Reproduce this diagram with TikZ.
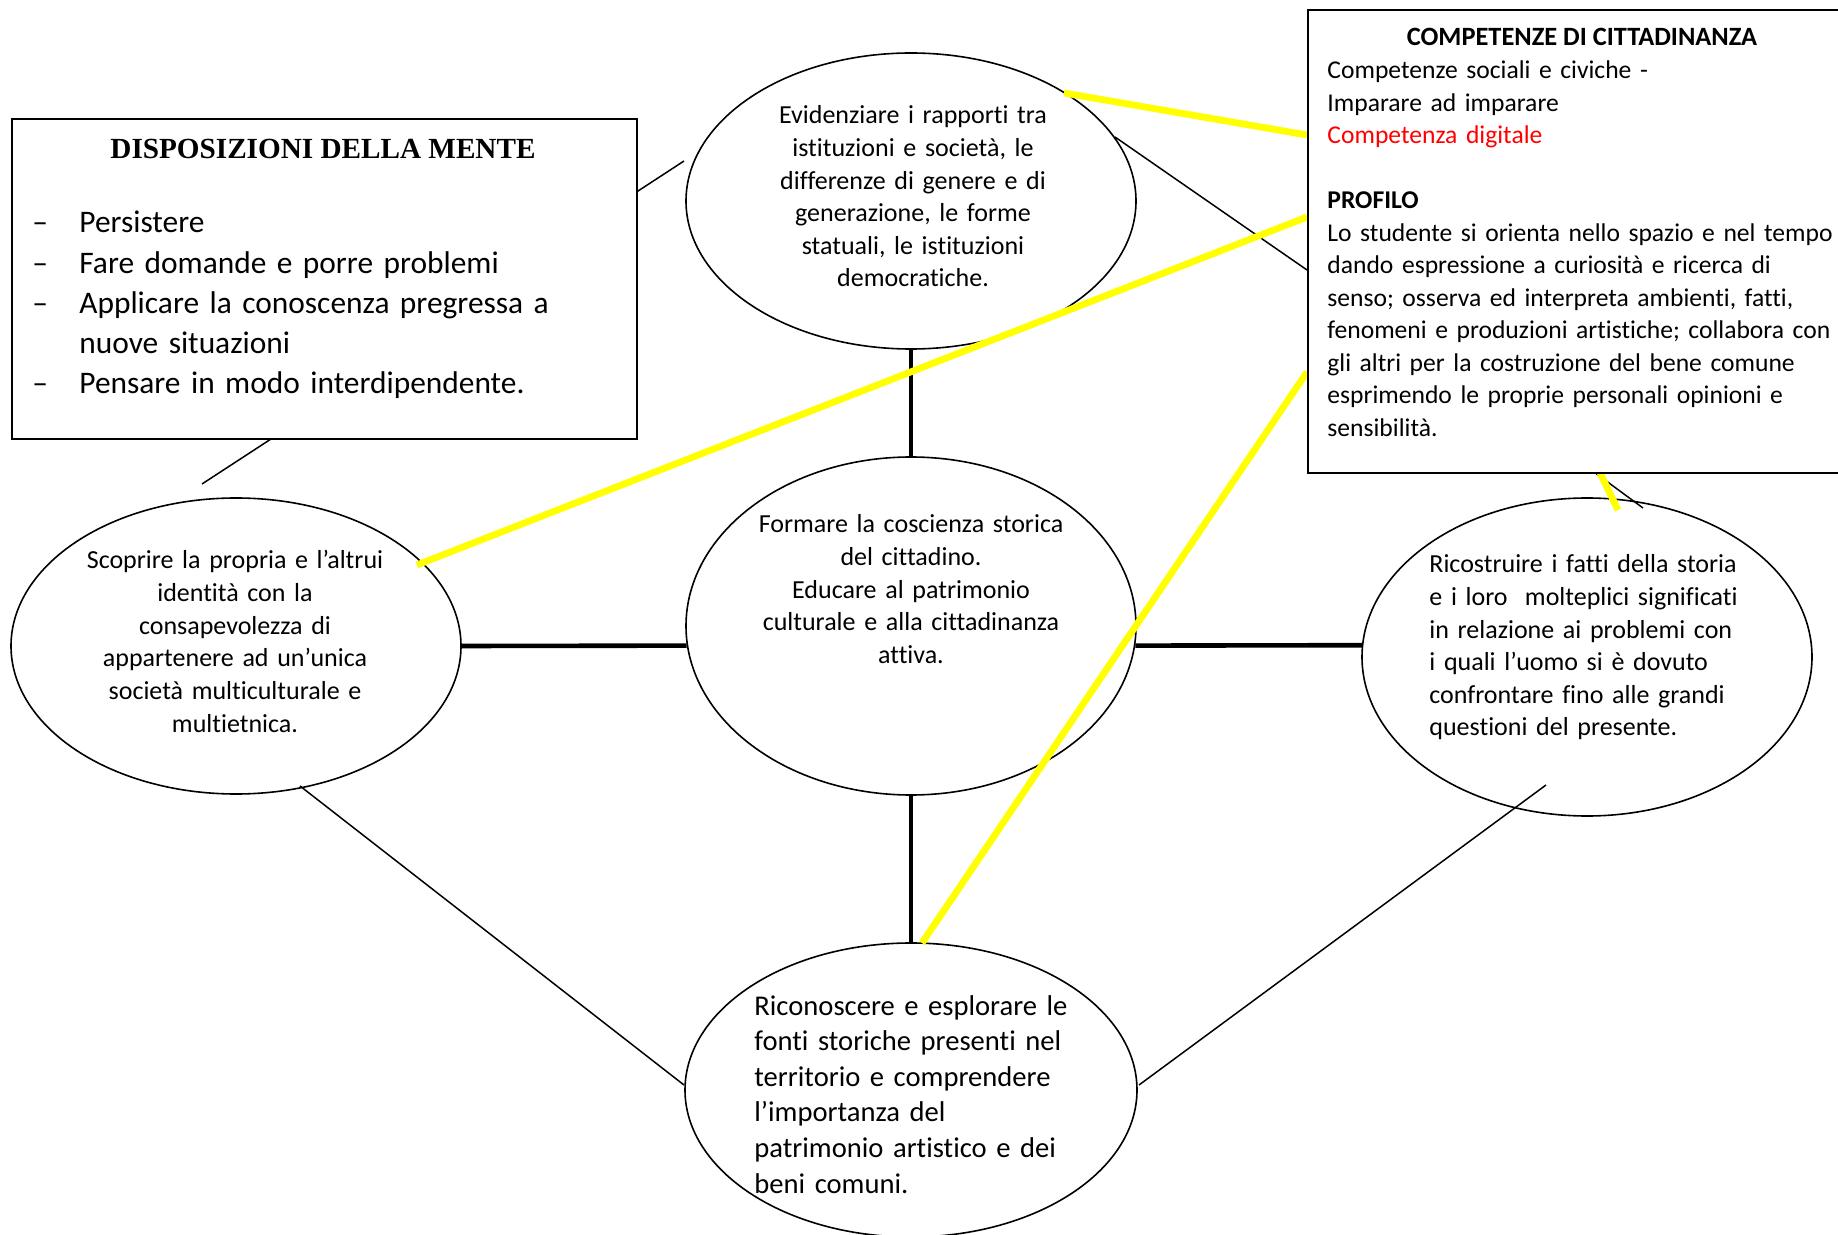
\documentclass[tikz,border=0pt]{standalone}
\usepackage{fontspec}
\setmainfont[Ligatures=CommonOff]{Carlito}
\newfontfamily\timesfont{Liberation Serif}
\usetikzlibrary{shapes.geometric}
\definecolor{hlyellow}{RGB}{255,255,0}
\definecolor{txtred}{RGB}{255,0,0}
\begin{document}
\begin{tikzpicture}[x=0.5pt,y=-0.5pt,
  oval/.style={draw, ellipse, line width=0.8pt, fill=white, inner sep=0pt},
  thicklink/.style={line width=2.3pt},
  thinlink/.style={line width=0.75pt},
  hl/.style={draw=hlyellow, line width=3.4pt},
  ctext/.style={font=\fontsize{13.0}{16.3}\selectfont, text width=170pt, align=center, anchor=base, inner sep=0pt},
  ltext/.style={font=\fontsize{13.0}{16.3}\selectfont, text width=200pt, align=left, anchor=base west, inner sep=0pt},
  boxframe/.style={draw, line width=1pt, fill=white}
]
\useasboundingbox[fill=white] (0,0) rectangle (1838,1235);

% ellipses
\node[oval, minimum width=225pt, minimum height=148pt] (top) at (911,201) {};
\node[oval, minimum width=225pt, minimum height=148pt] (lft) at (236,646) {};
\node[oval, minimum width=225pt, minimum height=169pt] (ctr) at (911,626) {};
\node[oval, minimum width=225pt, minimum height=159pt] (rgt) at (1587,657) {};
\node[oval, minimum width=226pt, minimum height=147pt] (bot) at (911,1090) {};

% free-end coordinates
\coordinate (a1) at (635,193); \coordinate (a2) at (684,161);
\coordinate (b1) at (271,439); \coordinate (b2) at (202,484);
\coordinate (c1) at (1115,137); \coordinate (c2) at (1307,270);
\coordinate (d1) at (300,786); \coordinate (d2) at (684,1085);
\coordinate (e1) at (1546,785); \coordinate (e2) at (1139,1085);
\coordinate (f1) at (1594,472); \coordinate (f2) at (1643,508);
\coordinate (y1a) at (1064,93); \coordinate (y1b) at (1307,135);
\coordinate (y2a) at (417,565); \coordinate (y2b) at (1307,217);
\coordinate (y3a) at (922,943); \coordinate (y3b) at (1307,372);
\coordinate (y4a) at (1600,473); \coordinate (y4b) at (1618,510);

% thick connectors
\draw[thicklink] (top.south) -- (ctr.north);
\draw[thicklink] (ctr.south) -- (bot.north);
\draw[thicklink] (lft.east) -- (ctr.185);
\draw[thicklink] (ctr.355) -- (rgt.177);

% thin connectors
\draw[thinlink] (a1) -- (a2);
\draw[thinlink] (b1) -- (b2);
\draw[thinlink] (c1) -- (c2);
\draw[thinlink] (d1) -- (d2);
\draw[thinlink] (e1) -- (e2);
\draw[thinlink] (f1) -- (f2);

% yellow highlights
\draw[hl] (y1a) -- (y1b);
\draw[hl] (y2a) -- (y2b);
\draw[hl] (y3a) -- (y3b);
\draw[hl] (y4a) -- (y4b);

% ellipse texts
\node[ctext] (ttop) at (913,124) {Evidenziare i rapporti tra\\istituzioni e società, le\\differenze di genere e di\\generazione, le forme\\statuali, le istituzioni\\democratiche.};
\node[ctext] (tlft) at (235,569) {Scoprire la propria e l’altrui\\identità con la\\consapevolezza di\\appartenere ad un’unica\\società multiculturale e\\multietnica.};
\node[ctext] (tctr) at (911,533) {Formare la coscienza storica\\del cittadino.\\Educare al patrimonio\\culturale e alla cittadinanza\\attiva.};
\node[ltext] (trgt) at (1429,573) {Ricostruire i fatti della storia\\e i loro\ \ molteplici significati\\in relazione ai problemi con\\i quali l’uomo si è dovuto\\confrontare fino alle grandi\\questioni del presente.};
\node[ltext, font=\fontsize{14.3}{17.8}\selectfont] (tbot) at (754,1015) {Riconoscere e esplorare le\\fonti storiche presenti nel\\territorio e comprendere\\l’importanza del\\patrimonio artistico e dei\\beni comuni.};

% left box
\node[boxframe, anchor=north west, minimum width=312.5pt, minimum height=160pt, inner sep=0pt] (dm) at (10.6,118) {};
\node[anchor=base, inner sep=0pt, font=\timesfont\bfseries\fontsize{14.6}{17}\selectfont] (dmtitle) at (323,159) {DISPOSIZIONI DELLA MENTE};
\node[anchor=base west, inner sep=0pt, text width=20pt, align=left, font=\fontsize{15.7}{20.1}\selectfont] (dmdash) at (32,233) {–\\–\\–\\~\\–};
\node[anchor=base west, inner sep=0pt, text width=300pt, align=left, font=\fontsize{15.7}{20.1}\selectfont] (dmitems) at (79,233) {Persistere\\Fare domande e porre problemi\\Applicare la conoscenza pregressa a\\nuove situazioni\\Pensare in modo interdipendente.};

% right box
\node[boxframe, anchor=north west, minimum width=280pt, minimum height=231.5pt, inner sep=0pt] (cc) at (1307,9) {};
\node[anchor=base, inner sep=0pt, font=\bfseries\fontsize{13.2}{16.25}\selectfont] (cctitle) at (1582,46) {COMPETENZE DI CITTADINANZA};
\node[anchor=base west, inner sep=0pt, text width=300pt, align=left, font=\fontsize{12.8}{16.25}\selectfont] (cctext) at (1327,79) {Competenze sociali e civiche -\\Imparare ad imparare\\\textcolor{txtred}{Competenza digitale}\\[16.25pt]\textbf{PROFILO}\\Lo studente si orienta nello spazio e nel tempo\\dando espressione a curiosità e ricerca di\\senso; osserva ed interpreta ambienti, fatti,\\fenomeni e produzioni artistiche; collabora con\\gli altri per la costruzione del bene comune\\esprimendo le proprie personali opinioni e\\sensibilità.};
\end{tikzpicture}
\end{document}
